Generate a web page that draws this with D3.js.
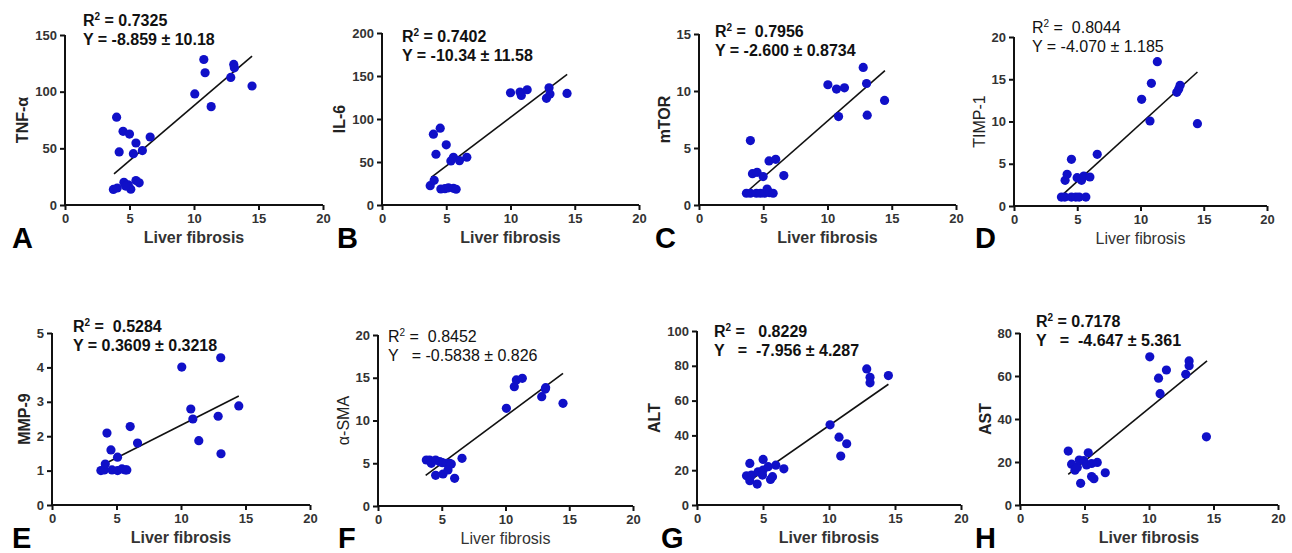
<!DOCTYPE html>
<html lang="en">
<head>
    <meta charset="UTF-8">
    <title>Liver fibrosis correlations</title>
    <script src="https://unpkg.com/d3@7.8.5/dist/d3.min.js"></script>
    <style>
        * { margin: 0; padding: 0; box-sizing: border-box; }
        body { background: #fff; }
        svg { display: block; font-family: "Liberation Sans", Arial, sans-serif; }
        text { white-space: pre; }
    </style>
</head>
<body>
    <svg class="cc" width="1292" height="553"></svg>
    <script>
        // 数据
        const letters = ['A', 'B', 'C', 'D', 'E', 'F', 'G', 'H']
        const yLabels = ['TNF-α', 'IL-6', 'mTOR', 'TIMP-1', 'MMP-9', 'α-SMA', 'ALT', 'AST']
        const yMax = [150, 200, 15, 20, 5, 20, 100, 80]
        const yStep = [50, 50, 5, 5, 1, 5, 20, 20]
        const xTicks = [0, 5, 10, 15, 20]
        const r2Text = ['= 0.7325', '= 0.7402', '=  0.7956', '=  0.8044', '=  0.5284', '=  0.8452', '=   0.8229', '= 0.7178']
        const eqText = ['Y = -8.859 ± 10.18', 'Y = -10.34 ± 11.58', 'Y = -2.600 ± 0.8734', 'Y = -4.070 ± 1.185',
            'Y = 0.3609 ± 0.3218', 'Y   = -0.5838 ± 0.826', 'Y   =  -7.956 ± 4.287', 'Y   =  -4.647 ± 5.361']

        const tnfX = [4.0, 4.5, 5.0, 4.2, 5.5, 5.3, 6.0, 6.6, 3.75, 4.05, 4.57, 4.9, 5.1, 5.5, 5.75, 4.7, 10.06, 10.76, 10.86, 11.33, 12.85, 13.08, 13.13, 14.5]
        const tnfY = [77.5, 65, 62.6, 46.8, 54.7, 45.3, 48, 60, 13.7, 15, 20, 17.8, 14, 21.6, 19.6, 16.7, 98, 128.4, 116.7, 86.8, 112.6, 124, 121, 105]
        const il6X = [4.0, 4.53, 5.0, 4.2, 3.75, 4.06, 4.58, 4.9, 5.17, 5.56, 5.77, 5.36, 5.56, 6.03, 6.6, 10.0, 10.74, 10.84, 11.3, 12.8, 13.0, 13.07, 14.4]
        const il6Y = [82.3, 89.3, 70, 59, 22.5, 28.7, 18.6, 19, 20, 19.4, 18.3, 51.3, 55.5, 51.6, 55.5, 130.5, 131.3, 127.4, 134, 124, 136.3, 129, 129.7]
        const mtorX = [4.0, 4.16, 4.52, 4.99, 5.45, 5.97, 6.6, 3.69, 4.0, 4.47, 4.78, 5.1, 5.3, 5.5, 5.77, 10.03, 10.7, 11.32, 10.86, 12.78, 13.04, 13.09, 14.44]
        const mtorY = [5.65, 2.75, 2.87, 2.49, 3.87, 4.01, 2.58, 1.03, 1.03, 1.03, 1.03, 1.03, 1.4, 1.08, 1.03, 10.55, 10.17, 10.28, 7.76, 12.07, 10.66, 7.88, 9.17]
        const timpX = [4.04, 4.2, 4.54, 4.99, 5.34, 5.52, 6.0, 6.58, 3.75, 4.02, 4.54, 4.89, 5.15, 5.68, 10.09, 10.75, 10.86, 11.33, 12.87, 13.02, 13.13, 14.5]
        const timpY = [3.04, 3.75, 5.52, 3.35, 3.04, 3.55, 3.43, 6.11, 1.06, 1.06, 1.06, 1.06, 1.06, 1.06, 12.62, 10.06, 14.52, 17.08, 13.45, 13.85, 14.28, 9.74]
        const mmpX = [4.26, 4.57, 5.08, 6.06, 6.63, 3.79, 4.05, 4.13, 4.65, 5.08, 5.42, 5.68, 5.8, 10.06, 10.76, 10.92, 11.38, 12.88, 13.08, 13.1, 14.48]
        const mmpY = [2.09, 1.6, 1.39, 2.28, 1.8, 1.0, 1.02, 1.19, 1.02, 1.0, 1.05, 1.02, 1.02, 4.01, 2.79, 2.5, 1.87, 2.58, 4.28, 1.49, 2.88]
        const smaX = [3.79, 4.05, 4.18, 4.52, 4.84, 5.05, 5.36, 5.62, 5.75, 4.52, 5.1, 5.49, 6.01, 6.59, 10.07, 10.69, 10.85, 11.32, 12.84, 13.12, 13.15, 14.51]
        const smaY = [5.38, 5.38, 4.99, 5.38, 5.19, 5.07, 4.99, 4.99, 4.9, 3.59, 3.74, 4.21, 3.24, 5.58, 11.42, 13.96, 14.74, 14.93, 12.79, 13.68, 13.84, 12.01]
        const altX = [4.0, 3.75, 4.13, 4.0, 4.56, 4.63, 5.01, 5.01, 4.96, 5.39, 5.57, 5.72, 5.97, 6.58, 10.08, 10.76, 10.89, 11.34, 12.86, 13.11, 13.11, 14.5]
        const altY = [23.9, 16.8, 17.2, 14.0, 12.0, 19.1, 26.2, 20.1, 17.2, 22.0, 14.7, 16.3, 22.9, 20.8, 46.1, 39.0, 28.1, 35.2, 78.2, 73.4, 70.2, 74.4]
        const astX = [3.74, 4.0, 4.26, 4.44, 4.59, 4.7, 4.95, 5.16, 5.29, 5.55, 5.55, 5.73, 5.99, 6.61, 10.06, 10.74, 10.86, 11.35, 12.85, 13.11, 13.11, 14.45]
        const astY = [25.1, 19.0, 16.2, 17.5, 20.9, 10.1, 20.6, 18.6, 24.3, 19.3, 13.2, 12.2, 19.8, 15.0, 68.9, 59.0, 51.8, 62.8, 60.8, 67.0, 64.8, 31.7]

        const seriesX = [tnfX, il6X, mtorX, timpX, mmpX, smaX, altX, astX]
        const seriesY = [tnfY, il6Y, mtorY, timpY, mmpY, smaY, altY, astY]

        // 回归线端点 [x1, y1, x2, y2]
        const fitLines = [
            [3.8, 27.5, 14.5, 131.3], [3.83, 32.2, 14.41, 151.8], [3.95, 1.38, 14.47, 11.78], [3.94, 1.46, 14.5, 15.86],
            [3.95, 1.17, 14.48, 3.17], [3.74, 3.59, 14.51, 15.52], [4.0, 14.0, 14.5, 69.4], [3.74, 14.2, 14.5, 67.0]
        ]

        // 布局 [x0, x20, yTop, y0]
        const frames = [
            [65, 323, 35, 205], [382, 639, 33, 205], [699, 956, 34, 205], [1014, 1267, 37, 206],
            [52, 310, 333, 505], [378, 633, 335, 506], [697, 961, 331, 505], [1020, 1278, 333, 505]
        ]
        // 统计文字位置 [x, 第一行基线]
        const statPos = [[83, 26], [402, 42], [715, 37], [1032, 33], [73, 332], [388, 342], [714, 337], [1036, 327]]
        const letterX = [12, 337, 655, 975, 12, 338, 661, 975]
        const bold = [true, true, true, false, true, false, true, true]

        const svg = d3.select('svg')

        letters.forEach((letter, i) => {
            const [x0, x1, yT, yB] = frames[i]
            const fw = bold[i] ? 'bold' : 'normal'
            const g = svg.append('g')

            const x = d3.scaleLinear().domain([0, 20]).range([x0, x1])
            const y = d3.scaleLinear().domain([0, yMax[i]]).range([yB, yT])

            // x轴
            const xAxis = g.append('g')
                .attr('transform', `translate(0,${yB})`)
                .call(d3.axisBottom(x).tickValues(xTicks).tickSize(5).tickPadding(4).tickFormat(d3.format('~g')))
            // y轴
            const yAxis = g.append('g')
                .attr('transform', `translate(${x0},0)`)
                .call(d3.axisLeft(y)
                    .tickValues(d3.range(0, yMax[i] + yStep[i] / 2, yStep[i]))
                    .tickSize(5).tickPadding(3)
                    .tickFormat(d3.format('~g')))

            ;[xAxis, yAxis].forEach(a => {
                a.select('.domain').attr('stroke', '#111').attr('stroke-width', 2)
                a.selectAll('.tick line').attr('stroke', '#111').attr('stroke-width', 2)
                a.selectAll('.tick text')
                    .attr('fill', '#333')
                    .attr('font-size', 13)
                    .attr('font-weight', 'bold')
                    .attr('font-family', '"Liberation Sans", Arial, sans-serif')
            })
            // 去掉domain两端的外伸
            xAxis.select('.domain').attr('d', `M${x0},0H${x1}`)
            yAxis.select('.domain').attr('d', `M0,${yB}V${yT}`)

            // 回归线
            const f = fitLines[i]
            g.append('line')
                .attr('x1', x(f[0])).attr('y1', y(f[1]))
                .attr('x2', x(f[2])).attr('y2', y(f[3]))
                .attr('stroke', '#111')
                .attr('stroke-width', 1.6)

            // 散点
            g.selectAll('circle')
                .data(seriesX[i].map((v, k) => [v, seriesY[i][k]]))
                .enter().append('circle')
                .attr('cx', d => x(d[0]))
                .attr('cy', d => y(d[1]))
                .attr('r', 4.6)
                .attr('fill', '#1010c8')

            // x轴标题
            g.append('text')
                .attr('x', (x0 + x1) / 2)
                .attr('y', yB + 38)
                .attr('text-anchor', 'middle')
                .attr('font-size', 16)
                .attr('font-weight', fw)
                .attr('fill', '#333')
                .text('Liver fibrosis')

            // y轴标题，根据刻度文字宽度定位
            let minLeft = Infinity
            yAxis.selectAll('.tick text').each(function () {
                const b = this.getBBox()
                minLeft = Math.min(minLeft, x0 + b.x)
            })
            g.append('text')
                .attr('transform', `translate(${minLeft - 7},${(yT + yB) / 2}) rotate(-90)`)
                .attr('text-anchor', 'middle')
                .attr('font-size', 16)
                .attr('font-weight', fw)
                .attr('fill', '#222')
                .text(yLabels[i])

            // 统计文字
            const [sx, sy] = statPos[i]
            const t1 = g.append('text')
                .attr('x', sx).attr('y', sy)
                .attr('font-size', 16)
                .attr('font-weight', fw)
                .attr('fill', '#111')
            t1.append('tspan').text('R')
            t1.append('tspan').attr('dy', -6).attr('font-size', 10).text('2')
            t1.append('tspan').attr('dy', 6).text(' ' + r2Text[i])

            g.append('text')
                .attr('x', sx).attr('y', sy + 19)
                .attr('font-size', 16)
                .attr('font-weight', fw)
                .attr('fill', '#111')
                .text(eqText[i])

            // 面板字母
            g.append('text')
                .attr('x', letterX[i])
                .attr('y', i < 4 ? 248 : 548)
                .attr('font-size', 29)
                .attr('font-weight', 'bold')
                .attr('fill', '#000')
                .text(letter)
        })
    </script>
</body>
</html>
